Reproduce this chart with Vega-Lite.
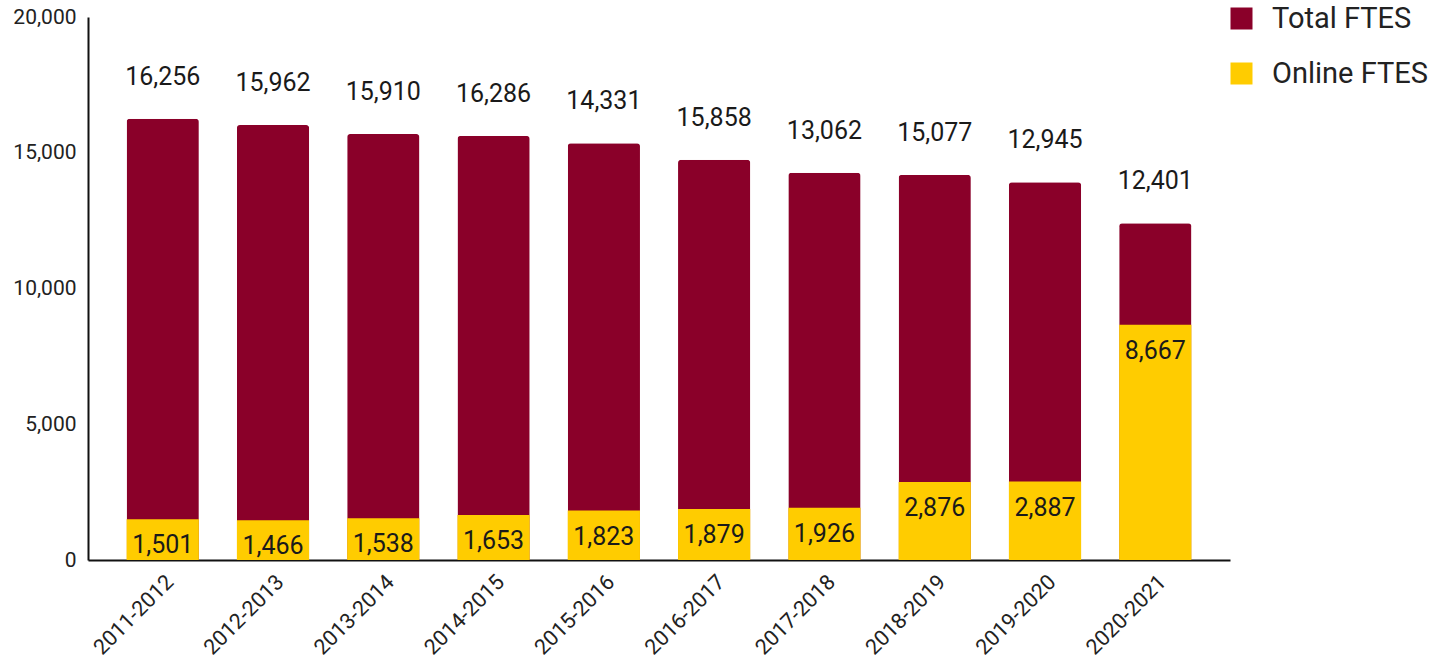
{
  "$schema": "https://vega.github.io/schema/vega-lite/v6.json",
  "autosize": "none",
  "width": 1142,
  "height": 543,
  "padding": {"left": 88, "top": 17, "right": 213, "bottom": 104},
  "background": "white",
  "config": {
    "font": "Roboto",
    "view": {"stroke": null},
    "axis": {"grid": false, "ticks": false, "domainColor": "#111111", "domainWidth": 2, "labelColor": "#222222", "labelFont": "Roboto", "title": null}
  },
  "data": {
    "values": [
      {"year": "2011-2012", "total": 16256, "total_label": "16,256", "online": 1501},
      {"year": "2012-2013", "total": 16020, "total_label": "15,962", "online": 1466},
      {"year": "2013-2014", "total": 15690, "total_label": "15,910", "online": 1538},
      {"year": "2014-2015", "total": 15620, "total_label": "16,286", "online": 1653},
      {"year": "2015-2016", "total": 15350, "total_label": "14,331", "online": 1823},
      {"year": "2016-2017", "total": 14740, "total_label": "15,858", "online": 1879},
      {"year": "2017-2018", "total": 14260, "total_label": "13,062", "online": 1926},
      {"year": "2018-2019", "total": 14185, "total_label": "15,077", "online": 2876},
      {"year": "2019-2020", "total": 13915, "total_label": "12,945", "online": 2887},
      {"year": "2020-2021", "total": 12401, "total_label": "12,401", "online": 8667}
    ]
  },
  "encoding": {
    "x": {
      "field": "year", "type": "nominal", "sort": null,
      "scale": {"paddingInner": 0.345, "paddingOuter": 0.35},
      "axis": {"labelAngle": -45, "labelFontSize": 21.5, "labelPadding": 11}
    }
  },
  "layer": [
    {
      "mark": {"type": "bar", "cornerRadiusTopLeft": 3, "cornerRadiusTopRight": 3},
      "encoding": {
        "y": {
          "field": "total", "type": "quantitative",
          "scale": {"domain": [0, 20000], "nice": false},
          "axis": {"values": [0, 5000, 10000, 15000, 20000], "format": ",.0f", "labelFontSize": 21, "labelPadding": 12}
        },
        "color": {
          "datum": "Total FTES",
          "scale": {"domain": ["Total FTES", "Online FTES"], "range": ["#8A0029", "#FFCC00"]},
          "legend": {
            "title": null, "orient": "none", "legendX": 1139, "legendY": -13,
            "symbolType": "square", "symbolSize": 484, "symbolStrokeWidth": 0,
            "labelFontSize": 29, "labelColor": "#222222", "labelFont": "Roboto",
            "labelOffset": 16, "rowPadding": 25
          }
        }
      }
    },
    {
      "mark": {"type": "bar"},
      "encoding": {
        "y": {"field": "online", "type": "quantitative",
          "axis": {"values": [0, 5000, 10000, 15000, 20000], "format": ",.0f", "labelFontSize": 21, "labelPadding": 12}},
        "color": {"datum": "Online FTES"}
      }
    },
    {
      "mark": {"type": "text", "fontSize": 25, "baseline": "middle", "dy": -42, "color": "#1a1a1a"},
      "encoding": {
        "y": {"field": "total", "type": "quantitative",
          "axis": {"values": [0, 5000, 10000, 15000, 20000], "format": ",.0f", "labelFontSize": 21, "labelPadding": 12}},
        "text": {"field": "total_label"}
      }
    },
    {
      "mark": {"type": "text", "fontSize": 25, "baseline": "middle", "dy": 26, "color": "#1a1a1a"},
      "encoding": {
        "y": {"field": "online", "type": "quantitative",
          "axis": {"values": [0, 5000, 10000, 15000, 20000], "format": ",.0f", "labelFontSize": 21, "labelPadding": 12}},
        "text": {"field": "online", "format": ",.0f"}
      }
    }
  ]
}
